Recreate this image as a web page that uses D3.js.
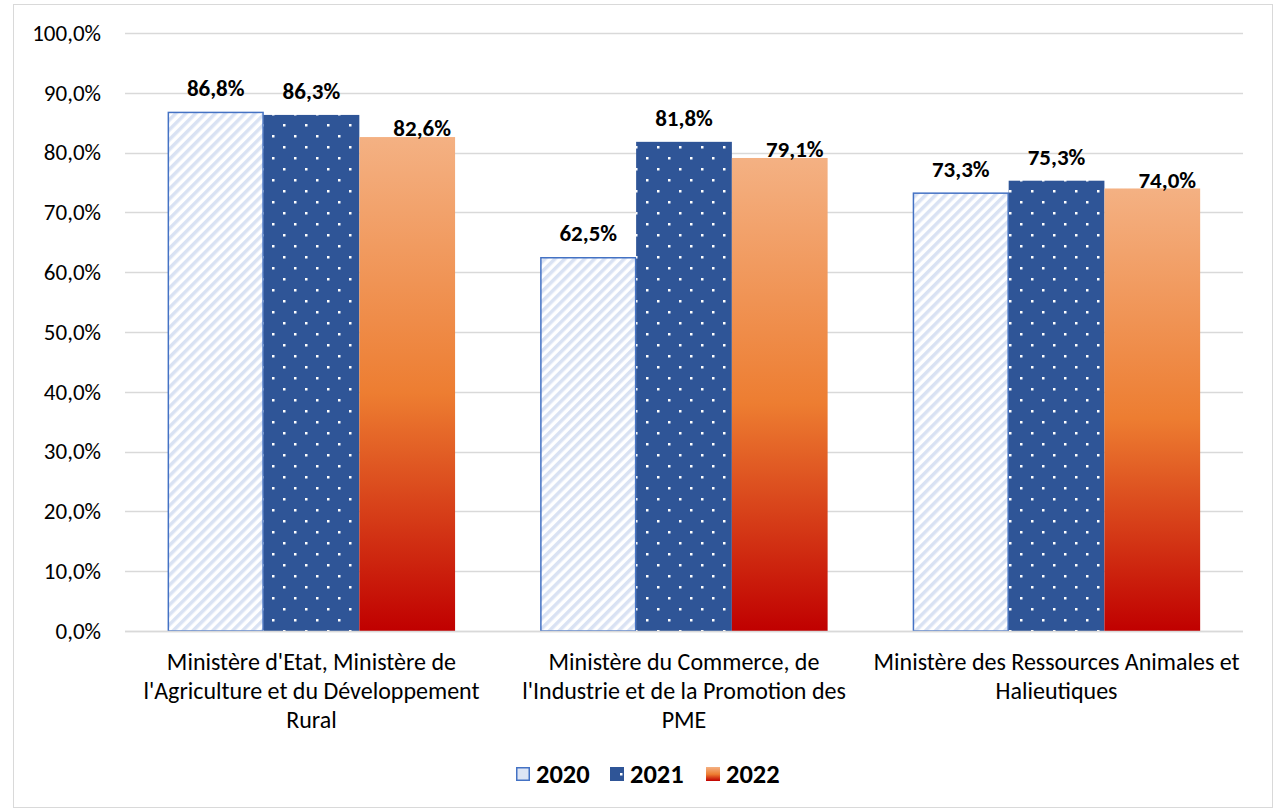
<!DOCTYPE html>
<html>
<head>
<meta charset="utf-8">
<script src="https://cdn.jsdelivr.net/npm/d3@7"></script>
<style>
  body { margin: 0; background: #fff; }
  svg { display: block; font-family: Carlito, Calibri, Lato, sans-serif; }
</style>
</head>
<body>
<svg id="chart" width="1283" height="811"></svg>
<script>
// data
var categories = [
  ["Ministère d'Etat, Ministère de", "l'Agriculture et du Développement", "Rural"],
  ["Ministère du Commerce, de", "l'Industrie et de la Promotion des", "PME"],
  ["Ministère des Ressources Animales et", "Halieutiques"]
]
var seriesNames = ['2020', '2021', '2022']
var values2020 = [86.8, 62.5, 73.3]
var values2021 = [86.3, 81.8, 75.3]
var values2022 = [82.6, 79.1, 74.0]
var yTicks = [0, 10, 20, 30, 40, 50, 60, 70, 80, 90, 100]

var allValues = [values2020, values2021, values2022]

var svg = d3.select('#chart')
var width = 1283, height = 811
var margin = { left: 125, right: 40, top: 33, bottom: 180 }
var plotW = 1243 - margin.left
var plotH = 631 - margin.top

var fmt = v => v.toFixed(1).replace('.', ',') + '%'

// frame
svg.append('rect')
  .attr('x', 13.5).attr('y', 4.5)
  .attr('width', 1259).attr('height', 803)
  .attr('fill', '#fff').attr('stroke', '#d9d9d9').attr('stroke-width', 1)

// patterns + gradient
var defs = svg.append('defs')

var hatch = defs.append('pattern')
  .attr('id', 'hatch').attr('patternUnits', 'userSpaceOnUse')
  .attr('width', 7).attr('height', 7)
  .attr('patternTransform', 'rotate(45)')
hatch.append('rect').attr('width', 7).attr('height', 7).attr('fill', '#fff')
hatch.append('rect').attr('width', 3.5).attr('height', 7).attr('fill', '#d9e2f3')

var dots = defs.append('pattern')
  .attr('id', 'dots').attr('patternUnits', 'userSpaceOnUse')
  .attr('width', 22).attr('height', 22)
dots.append('rect').attr('width', 22).attr('height', 22).attr('fill', '#2f5597')
dots.append('rect').attr('x', 4).attr('y', 3).attr('width', 2.5).attr('height', 2.5).attr('fill', '#fff')
dots.append('rect').attr('x', 15).attr('y', 14).attr('width', 2.5).attr('height', 2.5).attr('fill', '#fff')

var grad = defs.append('linearGradient')
  .attr('id', 'grad').attr('x1', 0).attr('y1', 0).attr('x2', 0).attr('y2', 1)
grad.append('stop').attr('offset', '0%').attr('stop-color', '#f4b183')
grad.append('stop').attr('offset', '52%').attr('stop-color', '#ed7d31')
grad.append('stop').attr('offset', '100%').attr('stop-color', '#c00000')

var fills = ['url(#hatch)', 'url(#dots)', 'url(#grad)']
var strokes = ['#4472c4', 'none', 'none']

var g = svg.append('g').attr('transform', `translate(${margin.left},${margin.top})`)

var x0 = d3.scaleBand().domain(d3.range(categories.length)).range([0, plotW]).paddingInner(0.229).paddingOuter(0.115)
var x1 = d3.scaleBand().domain(d3.range(seriesNames.length)).range([0, x0.bandwidth()])
var y = d3.scaleLinear().domain([0, 100]).range([plotH, 0])

// grid
g.append('g').selectAll('line').data(yTicks).join('line')
  .attr('x1', 0).attr('x2', plotW)
  .attr('y1', d => Math.round(y(d)) + 0.5).attr('y2', d => Math.round(y(d)) + 0.5)
  .attr('stroke', '#d9d9d9').attr('stroke-width', 1.3)

// y axis labels
var yAxis = g.append('g').call(d3.axisLeft(y).tickValues(yTicks).tickSize(0).tickPadding(24).tickFormat(fmt))
yAxis.select('.domain').remove()
yAxis.selectAll('text').attr('font-size', 23).attr('fill', '#000').attr('font-family', 'Carlito, Calibri, Lato, sans-serif')

// bars
var labelDx = [0, 0, 15]
var labelDy = [24, 24, 9]
seriesNames.forEach((s, si) => {
  var sg = g.append('g')
  sg.selectAll('rect').data(allValues[si]).join('rect')
    .attr('x', (d, i) => x0(i) + x1(si) + (si == 0 ? 0.5 : 0))
    .attr('y', d => y(d) + (si == 0 ? 0.5 : 0))
    .attr('width', x1.bandwidth() - (si == 0 ? 1 : 0))
    .attr('height', d => y(0) - y(d) - (si == 0 ? 0.5 : 0))
    .attr('fill', fills[si])
    .attr('stroke', strokes[si]).attr('stroke-width', 1.5)
  sg.selectAll('text').data(allValues[si]).join('text')
    .attr('x', (d, i) => x0(i) + x1(si) + x1.bandwidth() / 2 + labelDx[si])
    .attr('y', d => y(d) - labelDy[si])
    .attr('dy', '0.35em')
    .attr('text-anchor', 'middle')
    .attr('font-size', 23).attr('font-weight', 'bold').attr('fill', '#000')
    .text(fmt)
})

// baseline
g.append('line').attr('x1', 0).attr('x2', plotW).attr('y1', plotH + 0.5).attr('y2', plotH + 0.5)
  .attr('stroke', '#d9d9d9').attr('stroke-width', 1.3)

// category labels
categories.forEach((lines, i) => {
  var t = g.append('text')
    .attr('x', x0(i) + x0.bandwidth() / 2).attr('y', plotH + 39)
    .attr('text-anchor', 'middle').attr('font-size', 24).attr('fill', '#000')
  lines.forEach((l, li) => {
    t.append('tspan').attr('x', x0(i) + x0.bandwidth() / 2).attr('dy', li == 0 ? 0 : 29).text(l)
  })
})

// legend
var legendX = [516, 610, 706]
var legend = svg.append('g')
seriesNames.forEach((s, si) => {
  legend.append('rect')
    .attr('x', legendX[si] + (si == 0 ? 0.75 : 0)).attr('y', 767 + (si == 0 ? 0.75 : 0))
    .attr('width', si == 0 ? 12.5 : 14).attr('height', si == 0 ? 12.5 : 14)
    .attr('fill', si == 0 ? '#dde5f4' : fills[si])
    .attr('stroke', strokes[si]).attr('stroke-width', 1.5)
  legend.append('text')
    .attr('x', legendX[si] + 20).attr('y', 774).attr('dy', '0.35em')
    .attr('font-size', 26.5).attr('font-weight', 'bold').attr('fill', '#000')
    .text(s)
})
</script>
</body>
</html>
